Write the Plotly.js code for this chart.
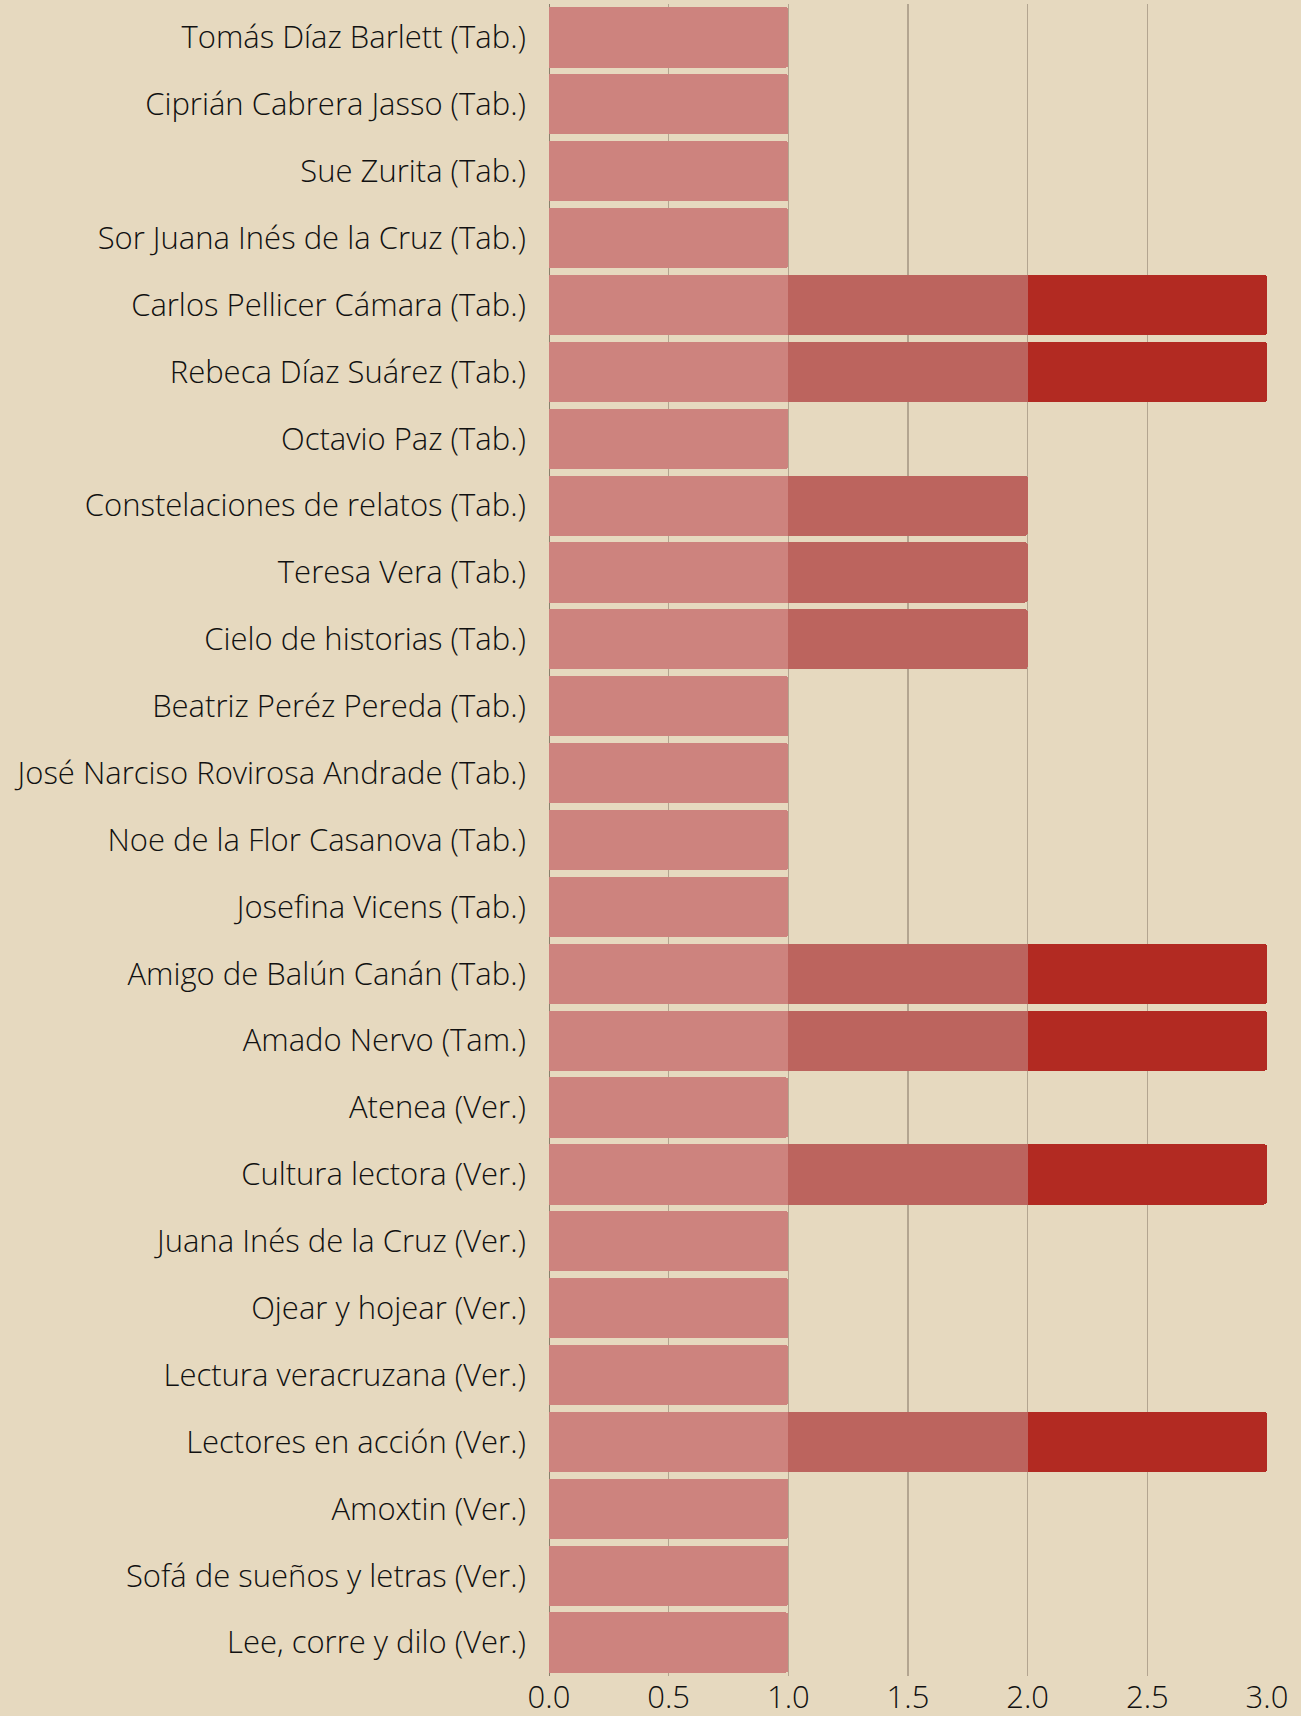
<!DOCTYPE html>
<html>
<head>
<meta charset="utf-8">
<script src="https://cdn.plot.ly/plotly-3.0.1.min.js"></script>
<style>
  html, body { margin: 0; padding: 0; background: #E6D9BF; }
  #chart { width: 1301px; height: 1716px; }
</style>
</head>
<body>
<div id="chart"></div>
<script>
const categories = [
  "Tomás Díaz Barlett (Tab.)",
  "Ciprián Cabrera Jasso (Tab.)",
  "Sue Zurita (Tab.)",
  "Sor Juana Inés de la Cruz (Tab.)",
  "Carlos Pellicer Cámara (Tab.)",
  "Rebeca Díaz Suárez (Tab.)",
  "Octavio Paz (Tab.)",
  "Constelaciones de relatos (Tab.)",
  "Teresa Vera (Tab.)",
  "Cielo de historias (Tab.)",
  "Beatriz Peréz Pereda (Tab.)",
  "José Narciso Rovirosa Andrade (Tab.)",
  "Noe de la Flor Casanova (Tab.)",
  "Josefina Vicens (Tab.)",
  "Amigo de Balún Canán (Tab.)",
  "Amado Nervo (Tam.)",
  "Atenea (Ver.)",
  "Cultura lectora (Ver.)",
  "Juana Inés de la Cruz (Ver.)",
  "Ojear y hojear (Ver.)",
  "Lectura veracruzana (Ver.)",
  "Lectores en acción (Ver.)",
  "Amoxtin (Ver.)",
  "Sofá de sueños y letras (Ver.)",
  "Lee, corre y dilo (Ver.)"
];
const level1 = [1,1,1,1,1,1,1,1,1,1,1,1,1,1,1,1,1,1,1,1,1,1,1,1,1];
const level2 = [null,null,null,null,1,1,null,1,1,1,null,null,null,null,1,1,null,1,null,null,null,1,null,null,null];
const level3 = [null,null,null,null,1,1,null,null,null,null,null,null,null,null,1,1,null,1,null,null,null,1,null,null,null];
const tickVals = [0, 0.5, 1, 1.5, 2, 2.5, 3];
const tickText = ["0.0", "0.5", "1.0", "1.5", "2.0", "2.5", "3.0"];

const colors = ["#CD837E", "#BC645E", "#B22A22"];
const series = [level1, level2, level3];
const traces = series.map((vals, i) => ({
  type: "bar",
  orientation: "h",
  y: categories,
  x: vals,
  marker: { color: colors[i], line: { width: 0 } },
  hoverinfo: "none",
  showlegend: false
}));

const textFont = { family: "Open Sans", weight: 300, size: 31, color: "#111111" };

const layout = {
  width: 1301,
  height: 1716,
  paper_bgcolor: "#E6D9BF",
  plot_bgcolor: "#E6D9BF",
  barmode: "stack",
  bargap: 0.1,
  barcornerradius: 3,
  margin: { l: 549, r: 34, t: 4, b: 40, pad: 0 },
  font: textFont,
  xaxis: {
    range: [0, 3],
    tickvals: tickVals,
    ticktext: tickText,
    showgrid: true,
    gridcolor: "#B3A590",
    gridwidth: 1.3,
    zeroline: false,
    showline: false,
    ticks: "",
    ticklabelstandoff: 0,
    tickfont: textFont,
    fixedrange: true
  },
  yaxis: {
    type: "category",
    autorange: "reversed",
    showgrid: false,
    zeroline: false,
    showline: false,
    ticks: "",
    ticklabelstandoff: 22,
    tickfont: textFont,
    fixedrange: true
  },
  shapes: [{
    type: "line", layer: "below",
    xref: "x", yref: "paper",
    x0: 0, x1: 0, y0: 0, y1: 1,
    line: { color: "#6B604F", width: 1.5 }
  }]
};

Plotly.newPlot("chart", traces, layout, { displayModeBar: false, staticPlot: true });
</script>
</body>
</html>
